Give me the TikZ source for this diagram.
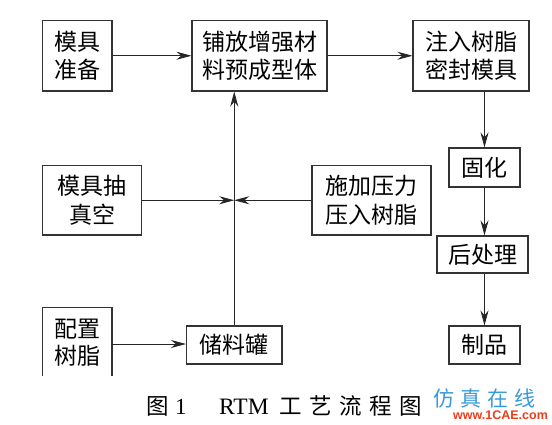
\documentclass[tikz,border=0pt]{standalone}
\usepackage{fontspec}
\setmainfont{Liberation Serif}
\newfontfamily\cjk{Noto Sans CJK SC}
\newfontfamily\wmsans{Liberation Sans}
\usetikzlibrary{arrows.meta}
\definecolor{wmblue}{HTML}{3A9AD9}
\definecolor{wmred}{HTML}{E8401C}
\begin{document}
\begin{tikzpicture}[x=1pt,y=-1pt,
  box/.style={draw=black!80, line width=1.1pt, inner sep=0pt, align=center,
    font=\cjk\fontsize{23}{28.5}\selectfont},
  boxtext/.style={inner sep=0pt, align=center, font=\cjk\fontsize{23}{27}\selectfont},
  flow/.style={line width=0.8pt, draw=black!85, -{Stealth[length=15pt,width=8pt]}},
  captxt/.style={inner sep=0pt, anchor=west, font=\cjk\fontsize{22.5}{22.5}\selectfont},
]
\useasboundingbox (0,0) rectangle (552,424);
\fill[white] (0,0) rectangle (552,424);

% boxes
\node[box, minimum width=69.5pt, minimum height=70.5pt] (prep) at (77.25,55.75) {模具\\准备};
\node[box, minimum width=135pt, minimum height=70.5pt] (lay) at (259.5,55.75) {铺放增强材\\料预成型体};
\node[box, minimum width=116pt, minimum height=70.5pt] (inject) at (471,55.75) {注入树脂\\密封模具};
\node[box, minimum width=71pt, minimum height=39pt] (cure) at (484.5,167.5) {固化};
\node[box, minimum width=99pt, minimum height=69.5pt] (vac) at (92,200.25) {模具抽\\真空};
\node[box, minimum width=119pt, minimum height=69.5pt] (press) at (371.5,200.25) {施加压力\\压入树脂};
\node[box, minimum width=91pt, minimum height=37pt] (post) at (482.5,254.5) {后处理};
\node[box, minimum width=95.5pt, minimum height=38pt] (tank) at (234.25,345) {储料罐};
\node[box, minimum width=71pt, minimum height=38pt] (product) at (484.5,345) {制品};

% open-bottomed box
\draw[draw=black!80, line width=1.1pt] (42.5,376) -- (42.5,307.6) -- (112,307.6) -- (112,376);
\node[boxtext] (resin) at (77.25,342.5) {配置\\树脂};
\coordinate (resinE) at (112,344);

% connectors
\draw[flow] (prep) -- (lay);
\draw[flow] (lay) -- (inject);
\draw[flow] (cure.north |- inject.south) -- (cure.north);
\draw[flow] (cure.south) -- (cure.south |- post.north);
\draw[flow] (post.south -| product.north) -- (product.north);
\draw[flow] (tank.north) -- (tank.north |- lay.south);
\coordinate (j) at (tank.north |- vac.east);
\draw[flow] (vac.east) -- (j);
\draw[flow] (press.west) -- (j);
\draw[flow] (resinE) -- (tank.west |- resinE);

% caption
\node[captxt] (capa) at (146,406) {图};
\node[inner sep=0pt, anchor=west, font=\fontsize{23}{23}\selectfont] (capb) at (175,406.5) {1};
\node[inner sep=0pt, anchor=west, font=\fontsize{23.5}{23.5}\selectfont] (capc) at (219,406.5) {RTM};
\node[captxt] (capd) at (279,406) {工\hspace{7.5pt}艺\hspace{7.5pt}流\hspace{7.5pt}程\hspace{7.5pt}图};

% watermark
\node[inner sep=0pt, anchor=west, text=wmblue] (wm1) at (433,399)
  {\cjk\fontsize{21}{21}\selectfont 仿\hspace{6pt}真\hspace{6pt}在\hspace{6pt}线};
\node[inner sep=0pt, anchor=west, text=wmred] (wm2) at (453,415)
  {\wmsans\bfseries\fontsize{12.5}{12.5}\selectfont www.1CAE.com};
\end{tikzpicture}
\end{document}
